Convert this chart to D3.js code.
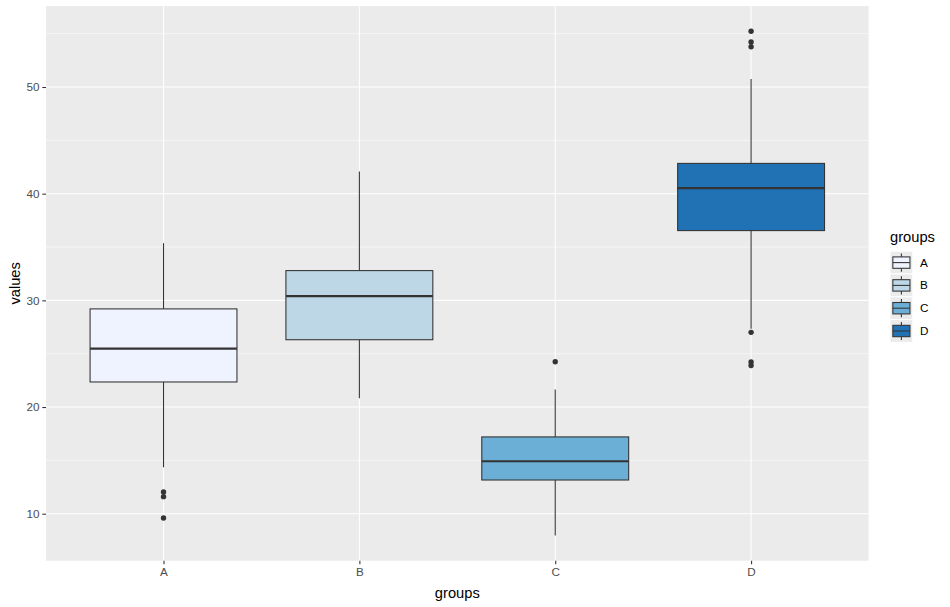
<!DOCTYPE html>
<html>
<head>
<meta charset="utf-8">
<script src="https://cdn.jsdelivr.net/npm/d3@7"></script>
<style>
  html, body { margin: 0; padding: 0; background: #fff; }
  svg text { font-family: "Liberation Sans", Arial, sans-serif; }
</style>
</head>
<body>
<svg id="chart" width="950" height="607"></svg>
<script>
// ---- data ----
const categories = ["A", "B", "C", "D"];
const whiskerLow  = [14.35, 20.83, 7.96, 27.33];
const q1          = [22.35, 26.31, 13.16, 36.54];
const medians     = [25.48, 30.40, 14.92, 40.52];
const q3          = [29.20, 32.79, 17.20, 42.84];
const whiskerHigh = [35.36, 42.08, 21.64, 50.75];
const outliers    = [[12.04, 11.60, 9.60], [], [24.24], [55.23, 54.23, 53.77, 27.00, 24.22, 23.90]];
const fills       = ["#eff3ff", "#bdd7e7", "#6baed6", "#2171b5"];
const yTicks      = [10, 20, 30, 40, 50];
const yMinor      = [15, 25, 35, 45, 55];

// ---- layout ----
const panel = { left: 46, right: 868.6, top: 6, bottom: 560.7 };
const svg = d3.select("#chart");
const lw = 1.07, lwMed = 2.13, gridMajor = 1.07, gridMinor = 0.53;

const boxes = categories.map((c, i) => ({
  cat: c, lo: whiskerLow[i], q1: q1[i], med: medians[i], q3: q3[i], hi: whiskerHigh[i],
  out: outliers[i], fill: fills[i]
}));

const allVals = boxes.flatMap(b => [b.lo, b.hi, ...b.out]);
const vmin = d3.min(allVals), vmax = d3.max(allVals);
const pad = (vmax - vmin) * 0.05;

const x = d3.scalePoint().domain(categories).range([panel.left, panel.right]).padding(0.6);
const y = d3.scaleLinear().domain([vmin - pad, vmax + pad]).range([panel.bottom, panel.top]);
const bw = x.step() * 0.75;

// panel background
svg.append("rect")
  .attr("x", panel.left).attr("y", panel.top)
  .attr("width", panel.right - panel.left).attr("height", panel.bottom - panel.top)
  .attr("fill", "#ebebeb");

const grid = svg.append("g");
grid.selectAll(".minor").data(yMinor.filter(v => y(v) >= panel.top && y(v) <= panel.bottom)).join("line")
  .attr("x1", panel.left).attr("x2", panel.right)
  .attr("y1", d => y(d)).attr("y2", d => y(d))
  .attr("stroke", "#fff").attr("stroke-width", gridMinor);
grid.selectAll(".major").data(yTicks).join("line")
  .attr("x1", panel.left).attr("x2", panel.right)
  .attr("y1", d => y(d)).attr("y2", d => y(d))
  .attr("stroke", "#fff").attr("stroke-width", gridMajor);
grid.selectAll(".vmajor").data(categories).join("line")
  .attr("x1", d => x(d)).attr("x2", d => x(d))
  .attr("y1", panel.top).attr("y2", panel.bottom)
  .attr("stroke", "#fff").attr("stroke-width", gridMajor);

// boxplots
const lineCol = "#333333";
const g = svg.append("g");
const bg = g.selectAll("g.box").data(boxes).join("g");
bg.append("line")
  .attr("x1", d => x(d.cat)).attr("x2", d => x(d.cat))
  .attr("y1", d => y(d.hi)).attr("y2", d => y(d.q3))
  .attr("stroke", lineCol).attr("stroke-width", lw);
bg.append("line")
  .attr("x1", d => x(d.cat)).attr("x2", d => x(d.cat))
  .attr("y1", d => y(d.q1)).attr("y2", d => y(d.lo))
  .attr("stroke", lineCol).attr("stroke-width", lw);
bg.append("rect")
  .attr("x", d => x(d.cat) - bw / 2).attr("width", bw)
  .attr("y", d => y(d.q3)).attr("height", d => y(d.q1) - y(d.q3))
  .attr("fill", d => d.fill).attr("stroke", lineCol).attr("stroke-width", lw);
bg.append("line")
  .attr("x1", d => x(d.cat) - bw / 2).attr("x2", d => x(d.cat) + bw / 2)
  .attr("y1", d => y(d.med)).attr("y2", d => y(d.med))
  .attr("stroke", lineCol).attr("stroke-width", lwMed);
bg.selectAll("circle").data(d => d.out.map(v => ({ cat: d.cat, v }))).join("circle")
  .attr("cx", d => x(d.cat)).attr("cy", d => y(d.v)).attr("r", 2.7)
  .attr("fill", lineCol);

// axes
const tickLen = 3.67, tickPad = 2.9;
const yAxis = svg.append("g").attr("transform", `translate(${panel.left},0)`)
  .call(d3.axisLeft(y).tickValues(yTicks).tickSize(tickLen).tickPadding(tickPad).tickFormat(d3.format("d")));
yAxis.select(".domain").remove();
yAxis.selectAll(".tick line").attr("stroke", lineCol).attr("stroke-width", lw);
yAxis.selectAll(".tick text").attr("fill", "#4d4d4d").style("font-size", "11.7px");

const xAxis = svg.append("g").attr("transform", `translate(0,${panel.bottom})`)
  .call(d3.axisBottom(x).tickSize(tickLen).tickPadding(tickPad));
xAxis.select(".domain").remove();
xAxis.selectAll(".tick line").attr("stroke", lineCol).attr("stroke-width", lw);
xAxis.selectAll(".tick text").attr("fill", "#4d4d4d").style("font-size", "11.7px");

// axis titles
svg.append("text")
  .attr("x", (panel.left + panel.right) / 2).attr("y", 598)
  .attr("text-anchor", "middle").attr("fill", "#000").style("font-size", "14.7px")
  .text("groups");
svg.append("text")
  .attr("transform", `translate(20,${(panel.top + panel.bottom) / 2}) rotate(-90)`)
  .attr("text-anchor", "middle").attr("fill", "#000").style("font-size", "14.7px")
  .text("values");

// legend
const lg = svg.append("g").attr("transform", "translate(890,0)");
lg.append("text").attr("x", 0).attr("y", 242).attr("fill", "#000").style("font-size", "14.7px").text("groups");
const key = 22.8, keyTop = 251.2;
const items = lg.selectAll("g.item").data(boxes).join("g")
  .attr("transform", (d, i) => `translate(0,${keyTop + i * key})`);
items.append("rect").attr("width", key).attr("height", key).attr("fill", "#ebebeb")
  .attr("stroke", "#fff").attr("stroke-width", 1);
items.append("line").attr("x1", key / 2).attr("x2", key / 2).attr("y1", key * 0.1).attr("y2", key * 0.25)
  .attr("stroke", lineCol).attr("stroke-width", lw);
items.append("line").attr("x1", key / 2).attr("x2", key / 2).attr("y1", key * 0.75).attr("y2", key * 0.9)
  .attr("stroke", lineCol).attr("stroke-width", lw);
items.append("rect").attr("x", key * 0.125).attr("width", key * 0.75).attr("y", key * 0.25).attr("height", key * 0.5)
  .attr("fill", d => d.fill).attr("stroke", lineCol).attr("stroke-width", lw);
items.append("line").attr("x1", key * 0.125).attr("x2", key * 0.875).attr("y1", key / 2).attr("y2", key / 2)
  .attr("stroke", lineCol).attr("stroke-width", lw);
items.append("text").attr("x", key + 7.3).attr("y", key / 2).attr("dy", "0.35em")
  .attr("fill", "#000").style("font-size", "11.7px").text(d => d.cat);
</script>
</body>
</html>
